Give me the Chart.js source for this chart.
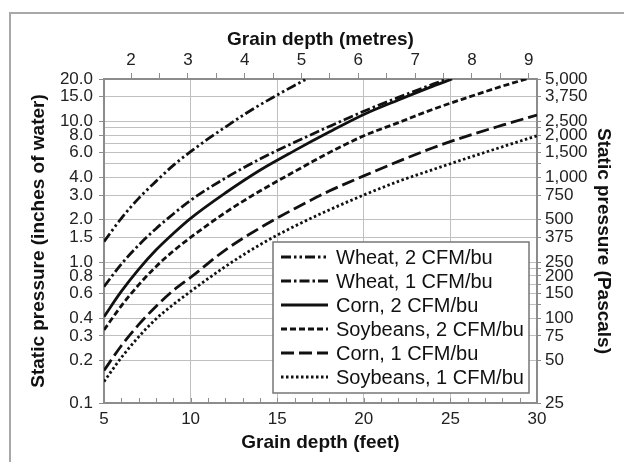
<!DOCTYPE html>
<html>
<head>
<meta charset="utf-8">
<script src="https://cdn.jsdelivr.net/npm/chart.js@4.4.1/dist/chart.umd.min.js"></script>
<style>
  html, body { margin: 0; padding: 0; background: #fff; }
  canvas { display: block; }
</style>
</head>
<body>
<canvas id="chart" width="624" height="462"></canvas>
<script>
// Depths (feet) where each curve was read, and static pressure (inches of water)
const wheat2Depth = [5, 6, 7, 8, 9, 10, 11, 12, 13, 14, 15, 16, 16.7];
const wheat2 = [1.40, 2.05, 2.84, 3.75, 4.87, 6.1, 7.5, 9.1, 11.0, 13.1, 15.4, 18.0, 20.0];

const wheat1Depth = [5, 6, 7, 8, 9, 10, 12, 14, 16, 18, 20, 22, 24, 24.8];
const wheat1 = [0.67, 0.97, 1.32, 1.73, 2.2, 2.75, 3.95, 5.4, 7.1, 9.2, 11.8, 14.8, 18.4, 20.0];

const corn2Depth = [5, 6, 7, 8, 9, 10, 12, 14, 16, 18, 20, 22, 24, 25.1];
const corn2 = [0.41, 0.62, 0.89, 1.22, 1.6, 2.05, 3.1, 4.5, 6.2, 8.4, 11.2, 14.2, 17.8, 20.0];

const soy2Depth = [5, 6, 7, 8, 9, 10, 12, 14, 16, 18, 20, 22, 24, 26, 28, 29.4];
const soy2 = [0.33, 0.49, 0.69, 0.93, 1.2, 1.5, 2.25, 3.2, 4.4, 6.0, 7.9, 9.8, 12.2, 14.8, 17.8, 20.0];

const depthFt = [5, 6, 7, 8, 9, 10, 12, 14, 16, 18, 20, 22, 24, 26, 28, 30];
const corn1 = [0.17, 0.255, 0.36, 0.485, 0.63, 0.78, 1.22, 1.75, 2.4, 3.2, 4.1, 5.2, 6.5, 7.9, 9.4, 11.1];
const soy1 = [0.142, 0.21, 0.295, 0.395, 0.5, 0.62, 0.93, 1.33, 1.8, 2.35, 3.0, 3.75, 4.55, 5.5, 6.6, 7.9];

// Tick labels and grid lines
const inchLabels = [0.1, 0.2, 0.3, 0.4, 0.6, 0.8, 1, 1.5, 2, 3, 4, 6, 8, 10, 15, 20];
const inchGrid = [0.1, 0.2, 0.3, 0.4, 0.5, 0.6, 0.7, 0.8, 0.9, 1, 1.5, 2, 3, 4, 5, 6, 7, 8, 9, 10, 15, 20];
const pascalLabels = [25, 50, 75, 100, 150, 200, 250, 375, 500, 750, 1000, 1500, 2000, 2500, 3750, 5000];
const feetLabels = [5, 10, 15, 20, 25, 30];
const metreLabels = [2, 3, 4, 5, 6, 7, 8, 9];

const FT_PER_M = 3.2808;
const PA_PER_IN = 250;

const FONT = '"Liberation Sans", Arial, sans-serif';
const tickFont = { family: FONT, size: 17 };
const titleFont = { family: FONT, size: 19, weight: 'bold', lineHeight: 1.2 };
const AXIS_GREY = '#8c8c8c';
const GRID_GREY = '#c0c0c0';

const pts = (xs, ys) => xs.map((x, i) => ({ x: x, y: ys[i] }));

function series(label, data, dash) {
    return {
        label: label,
        data: data,
        borderColor: '#111',
        borderWidth: 2.8,
        borderDash: dash,
        pointRadius: 0,
        fill: false,
        tension: 0.4,
        cubicInterpolationMode: 'monotone',
        xAxisID: 'x',
        yAxisID: 'y'
    };
}

// outer frame of the figure
const frame = {
    id: 'frame',
    beforeDraw(chart) {
        const ctx = chart.ctx;
        ctx.save();
        ctx.strokeStyle = '#a8a8a8';
        ctx.lineWidth = 2;
        ctx.beginPath();
        ctx.moveTo(10, chart.height);
        ctx.lineTo(10, 13);
        ctx.lineTo(chart.width, 13);
        ctx.stroke();
        ctx.restore();
    }
};

// small inward ticks every foot on the bottom axis, then the legend box
const extras = {
    id: 'extras',
    afterDatasetsDraw(chart) {
        const ctx = chart.ctx;
        const xs = chart.scales.x;
        const bottom = chart.chartArea.bottom;
        ctx.save();
        ctx.strokeStyle = AXIS_GREY;
        ctx.lineWidth = 1;
        for (let ft = 5; ft <= 30; ft++) {
            const px = Math.round(xs.getPixelForValue(ft)) + 0.5;
            ctx.beginPath();
            ctx.moveTo(px, bottom);
            ctx.lineTo(px, bottom - 5);
            ctx.stroke();
        }

        const x0 = 273, y0 = 242, w = 256, h = 151;
        ctx.fillStyle = '#fff';
        ctx.fillRect(x0, y0, w, h);
        ctx.strokeStyle = '#777';
        ctx.lineWidth = 1.5;
        ctx.strokeRect(x0, y0, w, h);
        ctx.font = '20px ' + FONT;
        ctx.textBaseline = 'middle';
        ctx.fillStyle = '#111';
        chart.data.datasets.forEach((ds, i) => {
            const y = y0 + 15 + i * 24;
            ctx.setLineDash(ds.borderDash || []);
            ctx.lineWidth = ds.borderWidth;
            ctx.strokeStyle = ds.borderColor;
            ctx.beginPath();
            ctx.moveTo(x0 + 8, y);
            ctx.lineTo(x0 + 55, y);
            ctx.stroke();
            ctx.setLineDash([]);
            ctx.fillText(ds.label, x0 + 63, y + 1);
        });
        ctx.restore();
    }
};

const config = {
    type: 'line',
    data: {
        datasets: [
            series('Wheat, 2 CFM/bu', pts(wheat2Depth, wheat2), [10, 3, 2.5, 3, 2.5, 3]),
            series('Wheat, 1 CFM/bu', pts(wheat1Depth, wheat1), [10, 3, 2.5, 3]),
            series('Corn, 2 CFM/bu', pts(corn2Depth, corn2), []),
            series('Soybeans, 2 CFM/bu', pts(soy2Depth, soy2), [6, 3]),
            series('Corn, 1 CFM/bu', pts(depthFt, corn1), [13, 5]),
            series('Soybeans, 1 CFM/bu', pts(depthFt, soy1), [2.5, 2.5])
        ]
    },
    options: {
        responsive: false,
        devicePixelRatio: 1,
        animation: false,
        layout: { padding: 0 },
        plugins: {
            legend: { display: false },
            tooltip: { enabled: false }
        },
        scales: {
            x: {
                type: 'linear',
                position: 'bottom',
                min: 5,
                max: 30,
                afterBuildTicks: s => { s.ticks = feetLabels.map(v => ({ value: v })); },
                afterFit: s => { s.height = 59; },
                grid: {
                    color: c => (c.tick && (c.tick.value === 5 || c.tick.value === 30)) ? 'transparent' : GRID_GREY,
                    drawTicks: false
                },
                border: { color: AXIS_GREY, width: 2 },
                ticks: { padding: 6, color: '#222', font: tickFont, maxRotation: 0, autoSkip: false },
                title: {
                    display: true,
                    text: 'Grain depth (feet)',
                    color: '#111',
                    font: titleFont,
                    padding: { top: 0, bottom: 8 }
                }
            },
            x2: {
                type: 'linear',
                position: 'top',
                min: 5 / FT_PER_M,
                max: 30 / FT_PER_M,
                afterBuildTicks: s => {
                    s.ticks = metreLabels.flatMap(m => [m, m + 0.5])
                        .filter(v => v <= 30 / FT_PER_M)
                        .map(v => ({ value: v }));
                },
                afterFit: s => { s.height = 79; },
                grid: { drawOnChartArea: false, tickLength: 6, color: AXIS_GREY },
                border: { color: AXIS_GREY, width: 2 },
                ticks: {
                    padding: 2,
                    color: '#222',
                    font: tickFont,
                    maxRotation: 0,
                    autoSkip: false,
                    callback: v => metreLabels.includes(v) ? String(v) : ''
                },
                title: {
                    display: true,
                    text: 'Grain depth (metres)',
                    color: '#111',
                    font: titleFont,
                    padding: { top: 28, bottom: 0 }
                }
            },
            y: {
                type: 'logarithmic',
                position: 'left',
                min: 0.1,
                max: 20,
                afterBuildTicks: s => { s.ticks = inchGrid.map(v => ({ value: v })); },
                afterFit: s => { s.width = 104; },
                grid: {
                    color: GRID_GREY,
                    tickLength: 5,
                    tickColor: c => (c.tick && inchLabels.includes(c.tick.value)) ? AXIS_GREY : 'transparent'
                },
                border: { color: AXIS_GREY, width: 2 },
                ticks: {
                    padding: 6,
                    color: '#222',
                    font: tickFont,
                    autoSkip: false,
                    callback: v => inchLabels.includes(v) ? v.toFixed(1) : ''
                },
                title: {
                    display: true,
                    text: 'Static pressure (inches of water)',
                    color: '#111',
                    font: titleFont,
                    padding: { top: 27, bottom: 0 }
                }
            },
            y2: {
                type: 'logarithmic',
                position: 'right',
                min: 0.1 * PA_PER_IN,
                max: 20 * PA_PER_IN,
                afterBuildTicks: s => { s.ticks = inchGrid.map(v => ({ value: Math.round(v * PA_PER_IN) })); },
                afterFit: s => { s.width = 87; },
                grid: { drawOnChartArea: false, tickLength: 4, color: AXIS_GREY },
                border: { color: AXIS_GREY, width: 2 },
                ticks: {
                    padding: 4,
                    color: '#222',
                    font: tickFont,
                    autoSkip: false,
                    callback: v => pascalLabels.includes(v) ? v.toLocaleString('en-US') : ''
                },
                title: {
                    display: true,
                    text: 'Static pressure (Pascals)',
                    color: '#111',
                    font: titleFont,
                    padding: { top: 9, bottom: 0 }
                }
            }
        }
    },
    plugins: [frame, extras]
};

const ctx = document.getElementById('chart').getContext('2d');
const chart = new Chart(ctx, config);
</script>
</body>
</html>
